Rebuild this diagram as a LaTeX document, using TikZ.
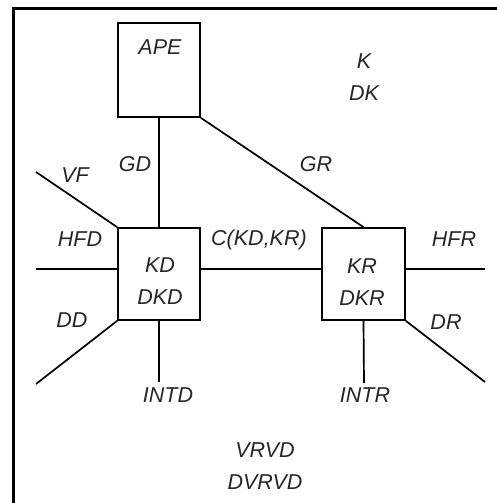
\documentclass[tikz,border=0pt]{standalone}
\usepackage{fontspec}
\setmainfont{Liberation Sans}
\usetikzlibrary{positioning}

\begin{document}
\begin{tikzpicture}[x=1pt, y=-1pt, line width=1.7pt,
    every node/.style={font=\fontsize{21.5}{32}\selectfont\itshape, text=black!85},
    box/.style={draw, minimum width=82pt, minimum height=92pt, inner sep=0pt},
    lbl/.style={inner sep=1pt}]
    \useasboundingbox (0,0) rectangle (497,503);
    % frame
    \draw[line width=3pt] (13,510) -- (13,9) -- (505,9);

    % boxes
    \node[box, minimum height=94pt] (ape) at (159,70) {};
    \node[box] (kd) at (159,274) {};
    \node[box, minimum width=83pt] (kr) at (363.5,274) {};

    % texts in the boxes
    \node[lbl] (apet) at (160,47) {APE};
    \node[lbl, align=center] (kdt) at (160,281) {KD\\DKD};
    \node[lbl, align=center] (krt) at (362,282) {KR\\DKR};

    % free ends
    \coordinate (vf) at (36,172);
    \coordinate (hfd) at (36,269);
    \coordinate (dd) at (36,384);
    \coordinate (intd) at (159,382);
    \coordinate (hfr) at (485,269);
    \coordinate (dr) at (485,382);
    \coordinate (intr) at (364,383);

    % connectors
    \draw (ape.south) -- (kd.north);
    \draw (ape.south east) -- (kr.north);
    \draw (kd.east |- hfd) -- (kr.west |- hfd);
    \draw (kd.north west) -- (vf);
    \draw (kd.west |- hfd) -- (hfd);
    \draw (kd.south west) -- (dd);
    \draw (kd.south) -- (intd);
    \draw (kr.east |- hfr) -- (hfr);
    \draw (kr.south east) -- (dr);
    \draw (kr.south) -- (intr);

    % labels
    \node[lbl] (gd) at (135,164) {GD};
    \node[lbl] (gr) at (316,164) {GR};
    \node[lbl] (vft) at (75,175) {VF};
    \node[lbl] (hfdt) at (80,239) {HFD};
    \node[lbl] (c) at (259,240) {C(KD,KR)};
    \node[lbl] (hfrt) at (454,239) {HFR};
    \node[lbl] (ddt) at (72,320) {DD};
    \node[lbl] (drt) at (446,322) {DR};
    \node[lbl] (intdt) at (168,395) {INTD};
    \node[lbl] (intrt) at (365,395) {INTR};
    \node[lbl, align=center] (k) at (364,77) {K\\DK};
    \node[lbl, align=center] (vrvd) at (265,466) {VRVD\\DVRVD};
\end{tikzpicture}
\end{document}
